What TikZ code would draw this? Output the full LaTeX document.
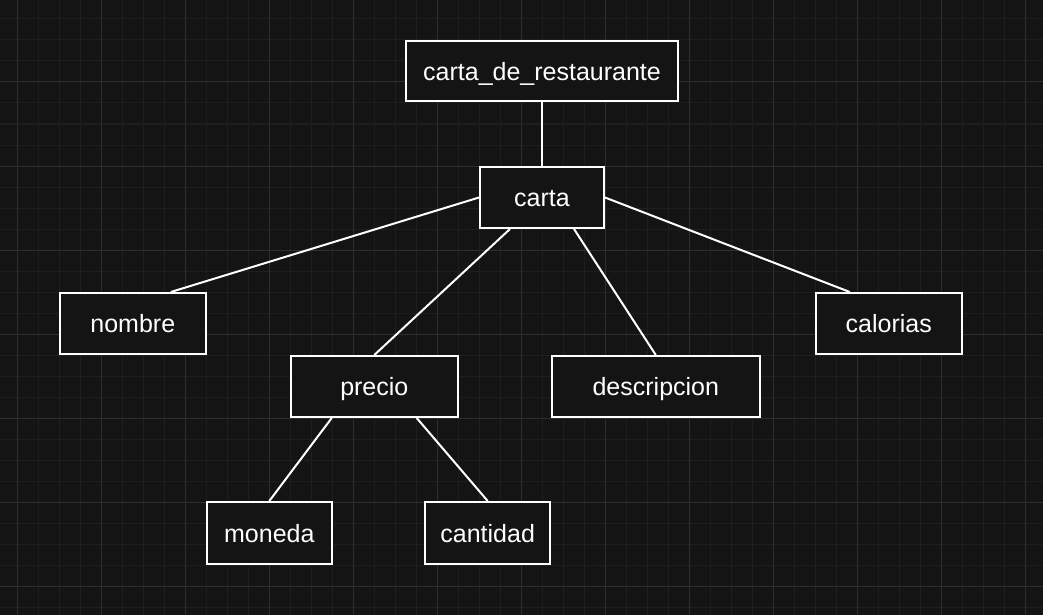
\documentclass[tikz,border=0pt]{standalone}
\usepackage{fontspec}
\setmainfont{Liberation Sans}
\definecolor{bgc}{HTML}{141414}
\definecolor{minorc}{HTML}{1E1E1E}
\definecolor{majorc}{HTML}{2E2E2E}
\tikzset{
  ent/.style={draw=white, line width=2pt, fill=bgc, text=white, inner sep=0pt,
    minimum height=61pt, text height=18.4pt, text depth=0pt,
    font=\fontsize{25}{30}\selectfont},
  conn/.style={draw=white, line width=2pt},
}
\begin{document}
\begin{tikzpicture}[x=1pt,y=-1pt]
\fill[bgc] (0,0) rectangle (1043,615);
\useasboundingbox (0,0) rectangle (1043,615);
% minor grid
\foreach \i [evaluate=\i as \gx using 17+21*\i] in {0,...,49}
  \draw[minorc, line width=1pt] (\gx,0) -- (\gx,615);
\foreach \i [evaluate=\i as \gy using 19+21*\i] in {0,...,28}
  \draw[minorc, line width=1pt] (0,\gy) -- (1043,\gy);
% major grid
\foreach \i [evaluate=\i as \gx using 17+84*\i] in {0,...,12}
  \draw[majorc, line width=1pt] (\gx,0) -- (\gx,615);
\foreach \i [evaluate=\i as \gy using 82+84*\i] in {0,...,6}
  \draw[majorc, line width=1pt] (0,\gy) -- (1043,\gy);

% nodes
\node[ent, minimum width=272pt, minimum height=60pt] (top) at (542,71) {carta\_de\_restaurante};
\node[ent, minimum width=124pt] (carta) at (542,197.5) {carta};
\node[ent, minimum width=146pt] (nombre) at (132.8,323.5) {nombre};
\node[ent, minimum width=146pt] (calorias) at (888.8,323.5) {calorias};
\node[ent, minimum width=167pt] (precio) at (374.3,386.5) {precio};
\node[ent, minimum width=208pt] (descripcion) at (655.8,386.5) {descripcion};
\node[ent, minimum width=125pt, minimum height=62pt] (moneda) at (269.3,533) {moneda};
\node[ent, minimum width=125pt, minimum height=62pt] (cantidad) at (487.7,533) {cantidad};

% connectors
\draw[conn] (top.south) -- (carta.north);
\draw[conn] (carta.west) -- ([xshift=38pt]nombre.north);
\draw[conn] ([xshift=-32pt]carta.south) -- (precio.north);
\draw[conn] ([xshift=32pt]carta.south) -- (descripcion.north);
\draw[conn] (carta.east) -- ([xshift=-39pt]calorias.north);
\draw[conn] ([xshift=-42.6pt]precio.south) -- (moneda.north);
\draw[conn] ([xshift=42.4pt]precio.south) -- (cantidad.north);
\end{tikzpicture}
\end{document}
